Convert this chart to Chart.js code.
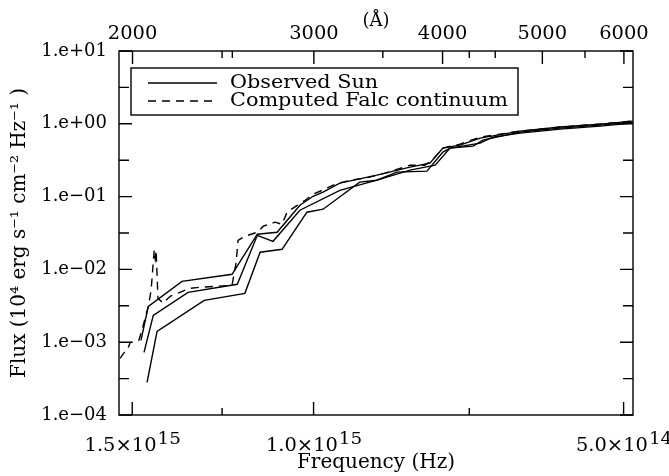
<!DOCTYPE html>
<html><head><meta charset="utf-8">
<script src="https://cdn.jsdelivr.net/npm/chart.js@4/dist/chart.umd.min.js"></script>
<style>html,body{margin:0;padding:0;background:#fff;}canvas{display:block;}</style>
</head><body>
<canvas id="c" width="669" height="476"></canvas>
<script>
// ---------------- data ----------------
const SERIES_NAMES = ['Observed Sun', 'Computed Falc continuum'];

// observed Sun, upper curve
const FREQ_OBS_UPPER = [1.471e15,1.447e15,1.342e15,1.200e15,1.134e15,1.085e15,1.031e15,1.001e15,9.79e14,9.43e14,8.68e14,8.06e14,7.71e14,7.49e14,7.21e14,6.89e14,6.30e14,5.76e14,5.27e14,4.90e14];
const FLUX_OBS_UPPER = [1.06e-3,3.10e-3,6.86e-3,8.57e-3,0.0304,0.0324,0.0762,0.101,0.115,0.153,0.197,0.254,0.288,0.463,0.509,0.636,0.794,0.902,0.991,1.09];

// observed Sun, middle curve
const FREQ_OBS_MIDDLE = [1.461e15,1.431e15,1.324e15,1.186e15,1.134e15,1.095e15,1.031e15,9.43e14,8.68e14,8.06e14,7.62e14,7.37e14,7.00e14,6.85e14,6.30e14,5.76e14,5.27e14,4.90e14];
const FLUX_OBS_MIDDLE = [7.24e-4,2.34e-3,4.84e-3,6.24e-3,0.0294,0.0243,0.0650,0.122,0.168,0.231,0.270,0.463,0.493,0.597,0.769,0.873,0.960,1.055];

// observed Sun, lower curve
const FREQ_OBS_LOWER = [1.451e15,1.419e15,1.277e15,1.166e15,1.127e15,1.073e15,1.015e15,9.79e14,9.02e14,8.68e14,8.30e14,7.76e14,7.49e14,7.37e14,6.89e14,6.70e14,6.30e14,5.76e14,5.27e14,4.90e14];
const FLUX_OBS_LOWER = [2.80e-4,1.41e-3,3.76e-3,4.69e-3,0.0172,0.0189,0.0610,0.0671,0.158,0.168,0.217,0.224,0.408,0.463,0.543,0.656,0.745,0.845,0.930,1.02];

// computed FALC continuum
const FREQ_FALC = [1.541e15,1.527e15,1.517e15,1.507e15,1.491e15,1.478e15,1.468e15,1.447e15,1.438e15,1.431e15,1.428e15,1.425e15,1.422e15,1.419e15,1.416e15,1.400e15,1.378e15,1.348e15,1.318e15,1.289e15,1.246e15,1.200e15,1.189e15,1.184e15,1.166e15,1.134e15,1.119e15,1.090e15,1.073e15,1.061e15,1.040e15,1.019e15,1.001e15,9.81e14,9.53e14,9.21e14,8.91e14,8.52e14,8.06e14,7.80e14,7.67e14,7.49e14,7.21e14,6.89e14,6.30e14,5.76e14,5.27e14,4.90e14];
const FLUX_FALC = [5.98e-4,7.24e-4,7.7e-4,9.93e-4,9.93e-4,1.06e-3,1.45e-3,3.10e-3,5.16e-3,0.01253,0.01832,0.01422,0.01832,8.3e-3,4.0e-3,3.42e-3,4.27e-3,4.84e-3,5.50e-3,5.68e-3,5.86e-3,6.04e-3,0.01253,0.0251,0.0285,0.0324,0.0392,0.0445,0.0417,0.0610,0.0738,0.0892,0.108,0.122,0.148,0.168,0.179,0.210,0.270,0.270,0.317,0.463,0.526,0.656,0.794,0.902,0.991,1.09];

// ticks
const FLUX_TICKS = [1e-4,1e-3,1e-2,1e-1,1,10];
const FLUX_MINOR_TICKS = [3.162e-4,3.162e-3,3.162e-2,0.3162,3.162];
const FREQ_TICKS = [1.5e15,1.0e15,5.0e14];
const FREQ_TICK_MANT = ['1.5×10','1.0×10','5.0×10'];
const FREQ_TICK_EXP = ['15','15','14'];
const FREQ_MINOR_TICKS = [1.227e15,7.06e14];
const WAVE_TICKS = [2000,3000,4000,5000,6000];
const WAVE_TICK_LABELS = ['2000','3000','4000','5000','6000'];
const WAVE_MINOR_TICKS = [2500,3500,4500,5500];
const FREQ_MIN = 4.896e14, FREQ_MAX = 1.545e15;
const FLUX_MIN = 1e-4, FLUX_MAX = 10;
const C_ANGSTROM = 2.99792458e18; // speed of light in Å/s

// --------------- chart ---------------
const FONT = 'DejaVu Serif';
const pts = (xs, ys) => xs.map((x, i) => ({x, y: ys[i]}));
function fmtFlux(v){
  const e = Math.round(Math.log10(v));
  const s = Math.abs(e).toString().padStart(2,'0');
  return '1.e' + (e < 0 ? '\u2212' : '+') + s;
}

const line = (label, data, dash, inLegend) => ({
  label, data, borderColor:'#000', borderWidth:1.4, borderDash:dash,
  pointRadius:0, tension:0, fill:false, showLine:true, inLegend
});

function wideText(ctx, text, x, y, sx){
  ctx.save();
  ctx.translate(x, y);
  ctx.scale(sx, 1);
  ctx.fillText(text, 0, 0);
  ctx.restore();
}

const framePlugin = {
  id:'frame',
  afterDraw(chart){
    const {ctx, chartArea:a, scales} = chart;
    const x = scales.x, y = scales.y, x2 = scales.x2;
    ctx.save();
    ctx.strokeStyle = '#000';
    ctx.lineWidth = 1.4;
    ctx.strokeRect(a.left, a.top, a.right - a.left, a.bottom - a.top);
    ctx.beginPath();
    const vt = (px, len) => { ctx.moveTo(px, a.bottom); ctx.lineTo(px, a.bottom - len); };
    const vtTop = (px, len) => { ctx.moveTo(px, a.top); ctx.lineTo(px, a.top + len); };
    FREQ_TICKS.forEach(v => vt(x.getPixelForValue(v), 13));
    FREQ_MINOR_TICKS.forEach(v => { vt(x.getPixelForValue(v), 7); vtTop(x.getPixelForValue(v), 7); });
    WAVE_TICKS.forEach(l => vtTop(x2.getPixelForValue(C_ANGSTROM / l), 13));
    WAVE_MINOR_TICKS.forEach(l => vtTop(x2.getPixelForValue(C_ANGSTROM / l), 7));
    const ht = (py, len) => { ctx.moveTo(a.left, py); ctx.lineTo(a.left + len, py); ctx.moveTo(a.right, py); ctx.lineTo(a.right - len, py); };
    FLUX_TICKS.forEach(v => ht(y.getPixelForValue(v), 13));
    FLUX_MINOR_TICKS.forEach(v => ht(y.getPixelForValue(v), 10));
    ctx.stroke();

    ctx.fillStyle = '#000';
    ctx.textBaseline = 'alphabetic';
    ctx.textAlign = 'left';
    const sx = 1.08;

    // top (wavelength) tick labels
    ctx.font = '18px "' + FONT + '"';
    WAVE_TICKS.forEach((l, i) => {
      const px = x2.getPixelForValue(C_ANGSTROM / l);
      const w = ctx.measureText(WAVE_TICK_LABELS[i]).width * sx;
      wideText(ctx, WAVE_TICK_LABELS[i], px - w / 2, a.top - 12, sx);
    });

    // bottom tick labels with exponents
    FREQ_TICKS.forEach((v, i) => {
      const px = x.getPixelForValue(v);
      ctx.font = '18px "' + FONT + '"';
      const w1 = ctx.measureText(FREQ_TICK_MANT[i]).width * sx;
      ctx.font = '17px "' + FONT + '"';
      const w2 = ctx.measureText(FREQ_TICK_EXP[i]).width * sx;
      const x0 = px - (w1 + w2) / 2;
      ctx.font = '18px "' + FONT + '"';
      wideText(ctx, FREQ_TICK_MANT[i], x0, a.bottom + 36, sx);
      ctx.font = '17px "' + FONT + '"';
      wideText(ctx, FREQ_TICK_EXP[i], x0 + w1 + 1, a.bottom + 29, sx);
    });

    // legend box
    const bx = a.left + 12, by = a.top + 17, bw = 387, bh = 47;
    ctx.lineWidth = 1.4;
    ctx.strokeRect(bx, by, bw, bh);
    ctx.font = '19px "' + FONT + '"';
    ctx.textBaseline = 'middle';
    const items = chart.data.datasets.filter(d => d.inLegend);
    const longest = Math.max(...items.map(d => ctx.measureText(d.label).width));
    const lsx = 278 / longest;
    items.forEach((d, i) => {
      const ly = by + 15 + i * 18;
      ctx.beginPath();
      ctx.setLineDash(d.borderDash || []);
      ctx.lineWidth = 1.4;
      ctx.moveTo(bx + 17, ly); ctx.lineTo(bx + 86, ly);
      ctx.stroke();
      ctx.setLineDash([]);
      wideText(ctx, d.label, bx + 99, ly, lsx);
    });
    ctx.restore();
  }
};

new Chart(document.getElementById('c'), {
  type:'line',
  data:{ datasets:[
    line(SERIES_NAMES[0], pts(FREQ_OBS_UPPER, FLUX_OBS_UPPER), [], true),
    line(SERIES_NAMES[1], pts(FREQ_FALC, FLUX_FALC), [8,6], true),
    line(SERIES_NAMES[0], pts(FREQ_OBS_MIDDLE, FLUX_OBS_MIDDLE), [], false),
    line(SERIES_NAMES[0], pts(FREQ_OBS_LOWER, FLUX_OBS_LOWER), [], false),
  ]},
  options:{
    responsive:false, animation:false, devicePixelRatio:1,
    layout:{padding:{left:0, right:36, top:0, bottom:0}},
    plugins:{legend:{display:false}, tooltip:{enabled:false}},
    scales:{
      x:{ type:'logarithmic', position:'bottom', reverse:true, min:FREQ_MIN, max:FREQ_MAX,
          grid:{display:false}, border:{display:false},
          ticks:{display:false},
          afterBuildTicks: s => { s.ticks = FREQ_TICKS.map(v => ({value:v})); },
          afterFit: s => { s.height = 61; },
          title:{display:true, text:'Frequency (Hz)', color:'#000', font:{family:FONT, size:20}, padding:{top:0,bottom:1}} },
      x2:{ type:'logarithmic', position:'top', reverse:true, min:FREQ_MIN, max:FREQ_MAX,
          grid:{display:false}, border:{display:false},
          ticks:{display:false},
          afterBuildTicks: s => { s.ticks = WAVE_TICKS.map(l => ({value:C_ANGSTROM / l})); },
          afterFit: s => { s.height = 51; },
          title:{display:true, text:'(Å)', color:'#000', font:{family:FONT, size:18}, padding:{top:11,bottom:0}} },
      y:{ type:'logarithmic', position:'left', min:FLUX_MIN, max:FLUX_MAX,
          grid:{display:false}, border:{display:false},
          ticks:{color:'#000', font:{family:FONT, size:18}, padding:4, callback: v => fmtFlux(v)},
          afterBuildTicks: s => { s.ticks = FLUX_TICKS.map(v => ({value:v})); },
          afterFit: s => { s.width = 119; },
          title:{display:true, text:'Flux (10\u2074 erg s\u207B\u00B9 cm\u207B\u00B2 Hz\u207B\u00B9 )', color:'#000', font:{family:FONT, size:20}, padding:{top:8,bottom:0}} }
    }
  },
  plugins:[framePlugin]
});
</script>
</body></html>
